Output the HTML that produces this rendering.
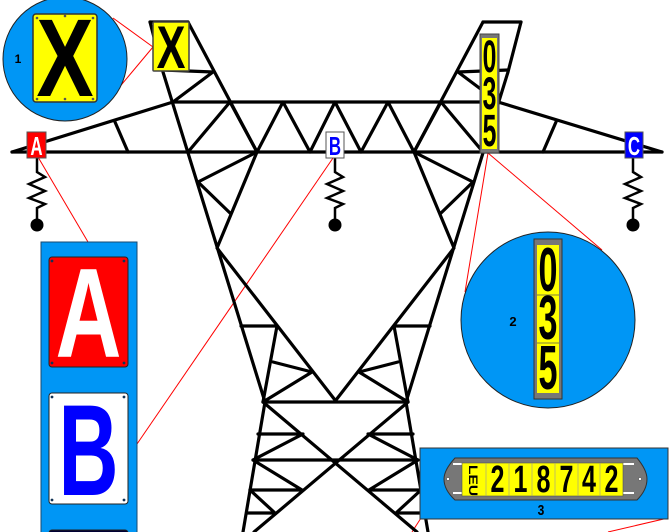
<!DOCTYPE html>
<html><head><meta charset="utf-8"><style>
html,body{margin:0;padding:0;background:#fff;}
svg{display:block;}
.n{font-family:"Liberation Sans",sans-serif;font-weight:bold;}
.s{font-family:"Liberation Sans",sans-serif;font-weight:bold;}
</style></head><body>
<svg width="670" height="532" viewBox="0 0 670 532" xmlns="http://www.w3.org/2000/svg">
<g stroke="#f00" stroke-width="1" fill="none">
<line x1="153" y1="47" x2="113" y2="18"/>
<line x1="153" y1="47" x2="117" y2="90"/>
<line x1="38" y1="157" x2="88" y2="242"/>
<line x1="333" y1="158" x2="137" y2="444"/>
<line x1="488" y1="153" x2="465" y2="292"/>
<line x1="488" y1="153" x2="602" y2="250"/>
<line x1="421" y1="518" x2="412" y2="532"/>
<line x1="668" y1="518" x2="608" y2="532"/>
</g>
<g stroke="#000" stroke-width="3.2" fill="none" stroke-linecap="round" stroke-linejoin="round">
<polyline points="150,22 163,72 265,402 243,532"/>
<polyline points="521,22 508,72 406,402 428,532"/>
<line x1="150" y1="22" x2="188" y2="22"/>
<line x1="483" y1="22" x2="521" y2="22"/>
<polyline points="188,22 257,152 217,248 335,400"/>
<polyline points="483,22 414,152 454,248 336,400"/>
<polyline points="163,70 213,72 173,102"/>
<polyline points="508,70 458,72 498,102"/>
<line x1="12" y1="152" x2="662" y2="152"/>
<line x1="173" y1="102" x2="498" y2="102"/>
<line x1="12" y1="152" x2="173" y2="102"/>
<line x1="662" y1="152" x2="498" y2="102"/>
<line x1="115" y1="122" x2="128" y2="152"/>
<line x1="556" y1="122" x2="543" y2="152"/>
<polyline points="188,152 230,102 257,152 283,102 310,152 335,102 361,152 388,102 414,152 441,102 483,152"/>
<polyline points="257,152 198,182 230,213"/>
<polyline points="414,152 473,182 441,213"/>
<polyline points="241,326 277,326 263,402"/>
<polyline points="430,326 394,326 408,402"/>
<polyline points="273,362 312,372 263,402"/>
<polyline points="398,362 359,372 408,402"/>
<line x1="263" y1="402" x2="408" y2="402"/>
<line x1="263" y1="402" x2="417" y2="532"/>
<line x1="408" y1="402" x2="254" y2="532"/>
<line x1="253" y1="460" x2="418" y2="460"/>
<polyline points="258,434 303,434 253,460 302,490 250,490"/>
<polyline points="413,434 368,434 418,460 369,490 421,490"/>
<polyline points="247,513 275,513 250,490"/>
<polyline points="424,513 396,513 421,490"/>
</g>
<g stroke="#000" stroke-width="2.5" fill="none">
<polyline points="37,157 37,172 45,177 29,184 45,191 29,198 45,204 37,208 37,220"/>
<polyline points="335,157 335,172 343,177 327,184 343,191 327,198 343,204 335,208 335,220"/>
<polyline points="633,157 633,172 641,177 625,184 641,191 625,198 641,204 633,208 633,220"/>
</g>
<circle cx="37" cy="225" r="6.5" fill="#000"/>
<circle cx="335" cy="225" r="6.5" fill="#000"/>
<circle cx="633" cy="225" r="6.5" fill="#000"/>
<rect x="27" y="132" width="19" height="26" fill="#f00" stroke="#555" stroke-width="1"/>
<g transform="translate(36.5 155) scale(0.65 1)"><text class="n" font-size="26" fill="#fff" text-anchor="middle">A</text></g>
<rect x="326" y="132" width="18" height="26" fill="#fff" stroke="#555" stroke-width="1"/>
<g transform="translate(335 155) scale(0.65 1)"><text class="n" font-size="26" fill="#00f" text-anchor="middle">B</text></g>
<rect x="625" y="132" width="18" height="26" fill="#00f" stroke="#555" stroke-width="1"/>
<g transform="translate(634 155) scale(0.65 1)"><text class="n" font-size="26" fill="#fff" text-anchor="middle">C</text></g>
<rect x="153" y="22" width="36" height="49" fill="#ff0" stroke="#444" stroke-width="1.5" rx="1"/>
<g transform="translate(171 68) scale(0.72 1)"><text class="n" font-size="60" text-anchor="middle">X</text></g>
<rect x="480" y="34" width="19" height="119" fill="#777" stroke="#444" stroke-width="1"/>
<rect x="482" y="38" width="15" height="111" fill="#ff0"/>
<g transform="translate(489.5 72) scale(0.55 1)"><text class="n" font-size="45" text-anchor="middle">0</text></g>
<g transform="translate(489.5 109) scale(0.55 1)"><text class="n" font-size="45" text-anchor="middle">3</text></g>
<g transform="translate(489.5 146) scale(0.55 1)"><text class="n" font-size="45" text-anchor="middle">5</text></g>
<circle cx="65" cy="59" r="62" fill="#0096f5" stroke="#222" stroke-width="1"/>
<rect x="33" y="14" width="64" height="88" rx="3" fill="#ff0" stroke="#333" stroke-width="1.5"/>
<g transform="translate(65 96) scale(0.78 1)"><text class="n" font-size="110" text-anchor="middle">X</text></g>
<g fill="#555"><circle cx="37" cy="18" r="1.3"/><circle cx="65" cy="16" r="1.3"/><circle cx="93" cy="18" r="1.3"/><circle cx="37" cy="99" r="1.3"/><circle cx="65" cy="99" r="1.3"/><circle cx="93" cy="99" r="1.3"/></g>
<text x="18" y="63" class="s" font-size="12" text-anchor="middle">1</text>
<ellipse cx="548" cy="320" rx="87" ry="88" fill="#0096f5" stroke="#222" stroke-width="1"/>
<rect x="534" y="239" width="28" height="160" fill="#777" stroke="#333" stroke-width="1"/>
<rect x="537" y="245" width="22" height="148" fill="#ff0"/>
<g stroke="#555" stroke-width="0.8"><line x1="537" y1="295" x2="559" y2="295"/><line x1="537" y1="343" x2="559" y2="343"/></g>
<g transform="translate(548 291) scale(0.55 1)"><text class="n" font-size="62" text-anchor="middle">0</text></g>
<g transform="translate(548 339) scale(0.55 1)"><text class="n" font-size="62" text-anchor="middle">3</text></g>
<g transform="translate(548 389) scale(0.55 1)"><text class="n" font-size="62" text-anchor="middle">5</text></g>
<text x="513" y="326" class="s" font-size="13" text-anchor="middle">2</text>
<rect x="41" y="242" width="96" height="295" fill="#0096f5" stroke="#1a4a70" stroke-width="1"/>
<rect x="49" y="257" width="79" height="110" rx="3" fill="#f00" stroke="#222" stroke-width="1"/>
<g transform="translate(88.5 357) scale(0.72 1)"><text class="n" font-size="127" fill="#fff" text-anchor="middle">A</text></g>
<rect x="49" y="393" width="79" height="111" rx="3" fill="#fff" stroke="#222" stroke-width="1"/>
<g transform="translate(88.5 495) scale(0.64 1)"><text class="n" font-size="130" fill="#00f" text-anchor="middle">B</text></g>
<rect x="49" y="530" width="79" height="10" rx="3" fill="#003" stroke="#222" stroke-width="1"/>
<g fill="#135"><circle cx="52" cy="261" r="1.4"/><circle cx="124" cy="261" r="1.4"/><circle cx="52" cy="363" r="1.4"/><circle cx="124" cy="363" r="1.4"/><circle cx="52" cy="397" r="1.4"/><circle cx="124" cy="397" r="1.4"/><circle cx="52" cy="500" r="1.4"/><circle cx="124" cy="500" r="1.4"/></g>
<rect x="420" y="448" width="248" height="71" fill="#0096f5" stroke="#333" stroke-width="1"/>
<path d="M455,458 L637,458 Q647,470 647,479 Q647,490 637,500 L455,500 Q444,490 444,479 Q444,470 455,458 Z" fill="#777" stroke="#333" stroke-width="1"/>
<g stroke="#fff" stroke-width="2"><line x1="453" y1="464" x2="463" y2="464"/><line x1="453" y1="493" x2="463" y2="493"/><line x1="623" y1="464" x2="634" y2="464"/><line x1="623" y1="493" x2="634" y2="493"/></g>
<circle cx="448" cy="479" r="1.6" fill="#fff" stroke="#333" stroke-width="0.5"/>
<circle cx="640" cy="479" r="1.6" fill="#fff" stroke="#333" stroke-width="0.5"/>
<rect x="462" y="463" width="161" height="33" fill="#ff0" stroke="#555" stroke-width="0.6"/>
<g stroke="#999" stroke-width="0.6"><line x1="486" y1="463" x2="486" y2="496"/><line x1="509" y1="463" x2="509" y2="496"/><line x1="532" y1="463" x2="532" y2="496"/><line x1="555" y1="463" x2="555" y2="496"/><line x1="578" y1="463" x2="578" y2="496"/><line x1="600" y1="463" x2="600" y2="496"/></g>
<text x="0" y="0" class="n" font-size="12" transform="translate(469 465) rotate(90) scale(1.3 1)">LEU</text>
<g transform="translate(497.5 492) scale(0.66 1)"><text class="n" font-size="38" text-anchor="middle">2</text></g>
<g transform="translate(520.5 492) scale(0.66 1)"><text class="n" font-size="38" text-anchor="middle">1</text></g>
<g transform="translate(543.5 492) scale(0.66 1)"><text class="n" font-size="38" text-anchor="middle">8</text></g>
<g transform="translate(566.5 492) scale(0.66 1)"><text class="n" font-size="38" text-anchor="middle">7</text></g>
<g transform="translate(589 492) scale(0.66 1)"><text class="n" font-size="38" text-anchor="middle">4</text></g>
<g transform="translate(611.5 492) scale(0.66 1)"><text class="n" font-size="38" text-anchor="middle">2</text></g>
<g transform="translate(541 515) scale(0.8 1)"><text class="s" font-size="15" text-anchor="middle">3</text></g>
</svg>
</body></html>
